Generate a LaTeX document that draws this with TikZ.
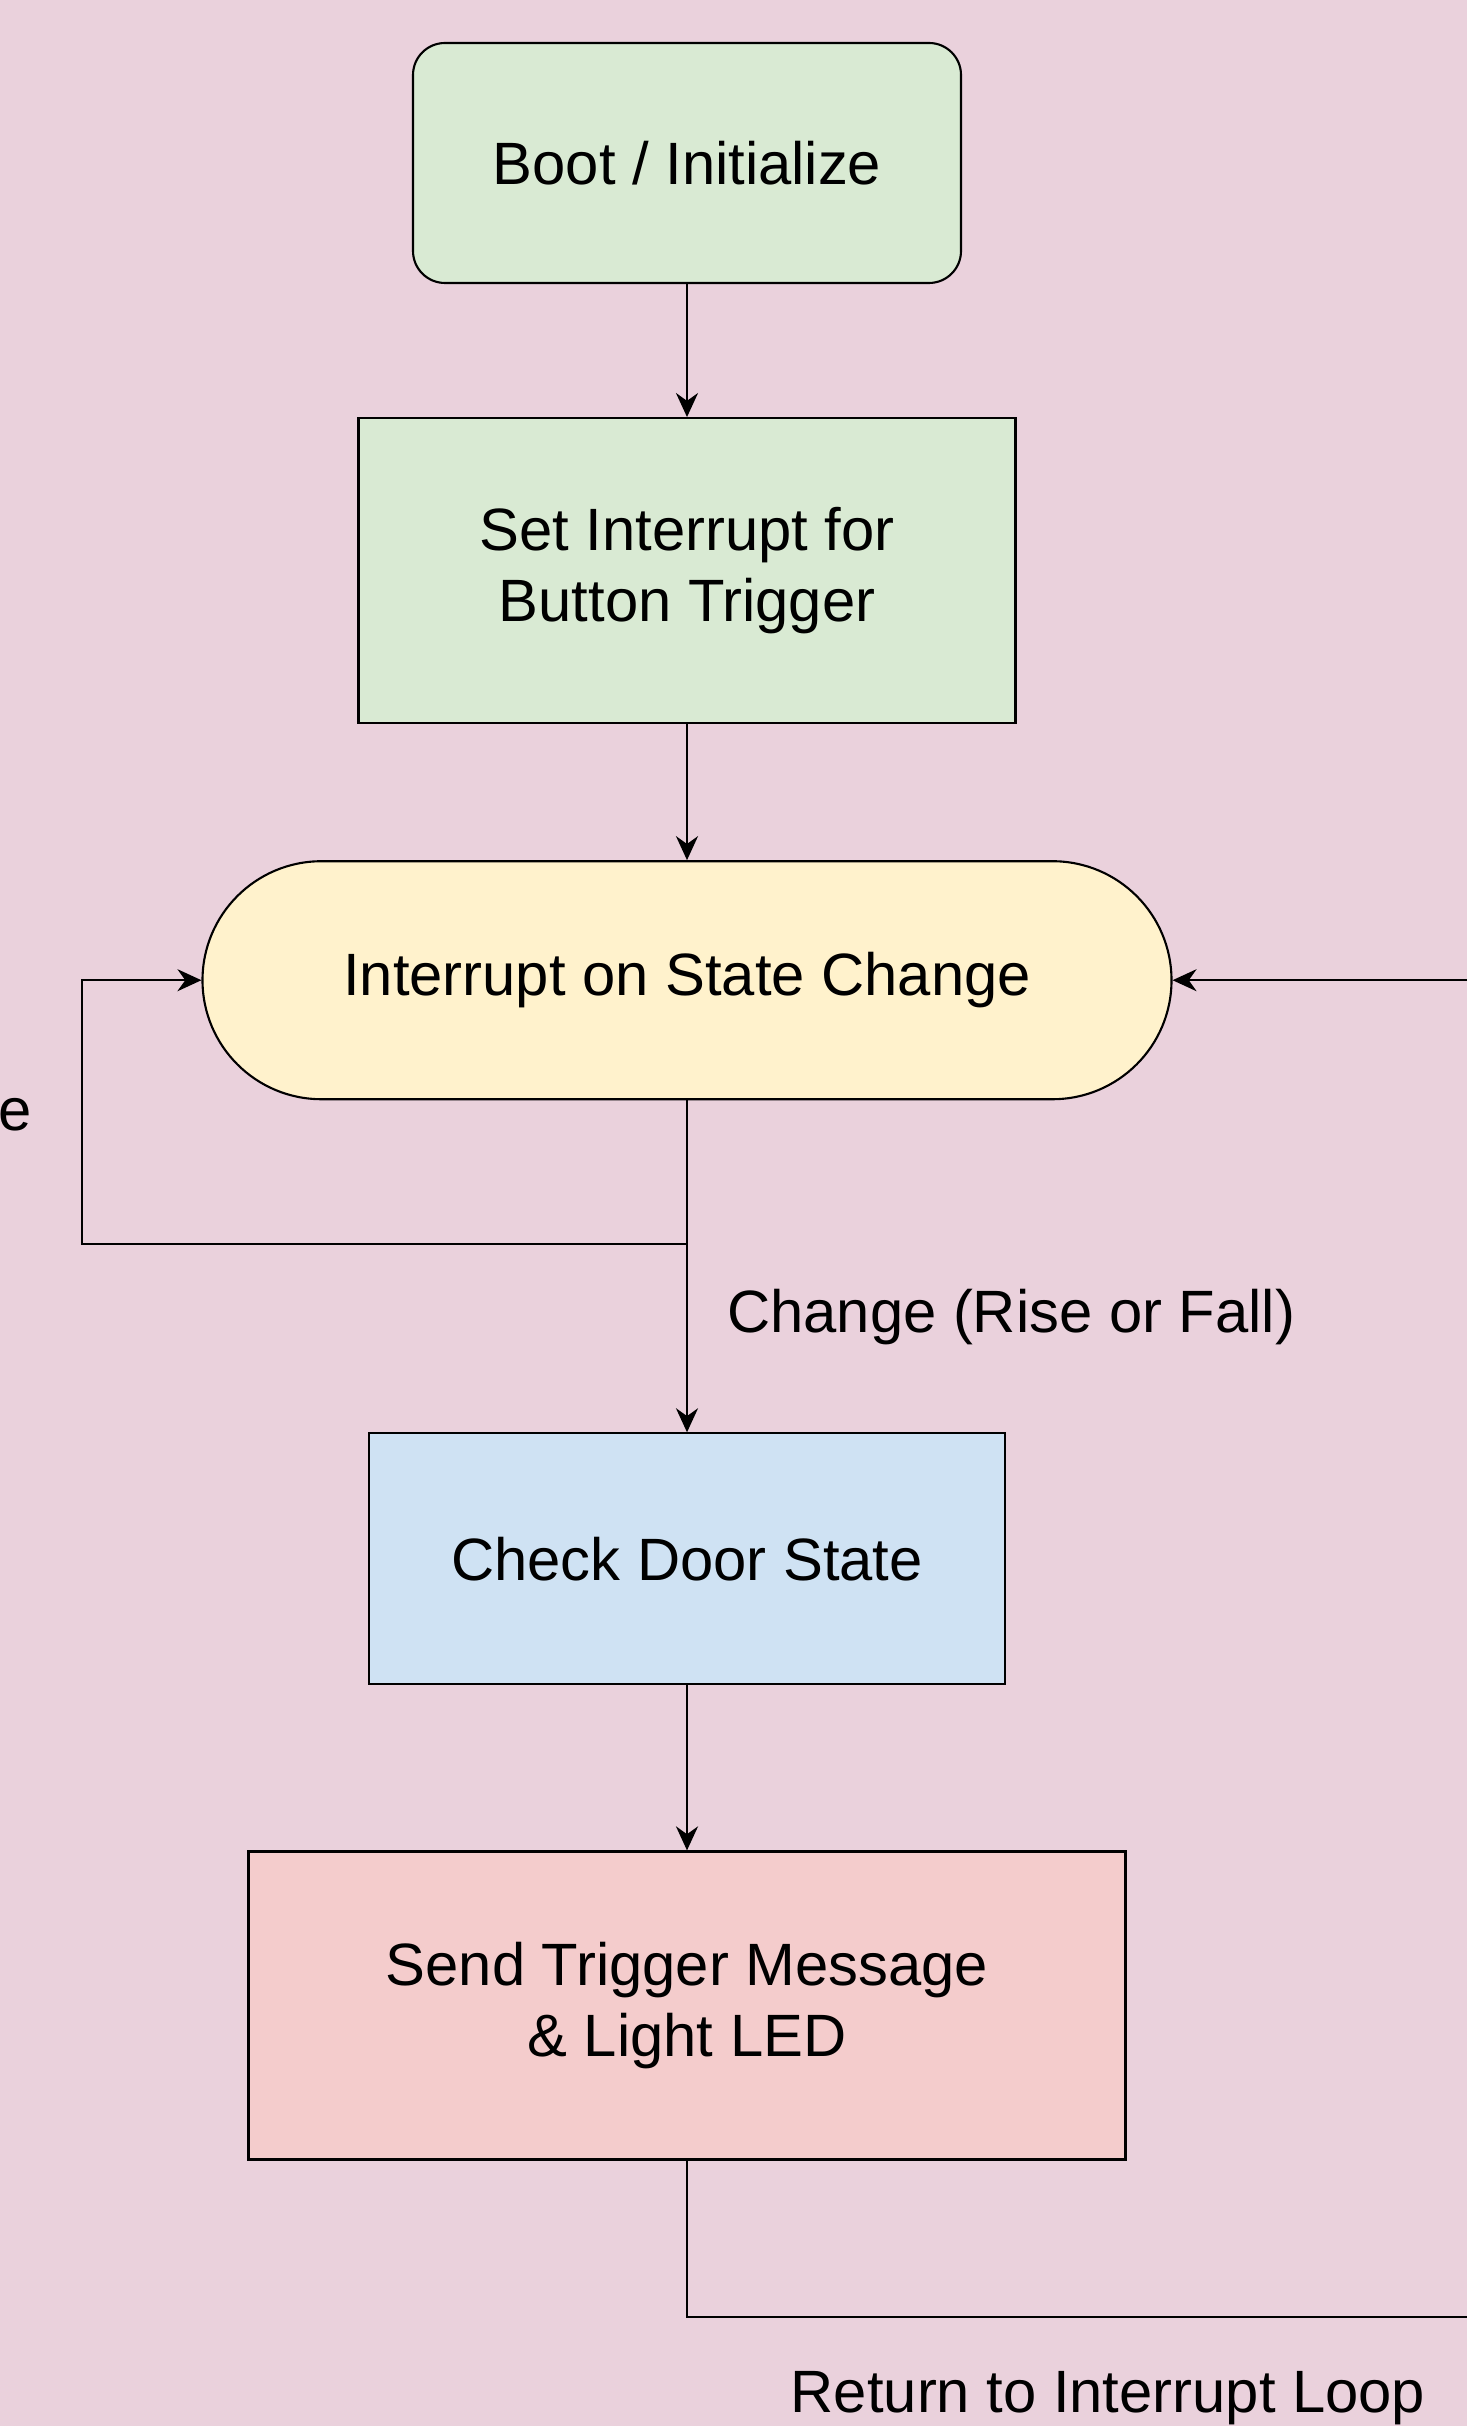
\documentclass[tikz,border=0pt]{standalone}
\usepackage{fontspec}
\setmainfont{Liberation Sans}
\usepackage{tikz}
\usetikzlibrary{arrows.meta, positioning}

\definecolor{bgpink}{HTML}{EAD1DC}
\definecolor{bootgreen}{HTML}{D9EAD3}
\definecolor{irqyellow}{HTML}{FFF2CC}
\definecolor{checkblue}{HTML}{CFE2F3}
\definecolor{sendred}{HTML}{F4CCCC}

\begin{document}
\begin{tikzpicture}[>={Stealth[length=2.4mm,width=2.2mm]}, line width=0.7pt,
    font=\fontsize{17}{20}\selectfont,
    flowbox/.style={shape=rectangle, draw=black, line width=0.6pt, align=center, inner sep=0pt}]
    \fill[bgpink] (0,0) rectangle (14.67,-24.26);
    \useasboundingbox (0,0) rectangle (14.67,-24.26);

    \node[flowbox, fill=bootgreen, rounded corners=0.32cm, minimum width=5.48cm, minimum height=2.40cm] (boot) at (6.87,-1.63) {Boot / Initialize};
    \node[flowbox, fill=bootgreen, minimum width=6.57cm, minimum height=3.05cm, below = 1.33cm of boot] (setint) {Set Interrupt for\\Button Trigger};
    \node[flowbox, fill=irqyellow, rounded corners=1.19cm, minimum width=9.69cm, minimum height=2.38cm, below = 1.36cm of setint] (irq) {Interrupt on State Change};
    \node[flowbox, fill=checkblue, minimum width=6.36cm, minimum height=2.51cm, below = 3.32cm of irq] (check) {Check Door State};
    \node[flowbox, fill=sendred, minimum width=8.77cm, minimum height=3.08cm, below = 1.65cm of check] (send) {Send Trigger Message\\\& Light LED};

    \coordinate (junc) at (6.87,-12.44);
    \coordinate (lft) at (0.82,-12.44);
    \coordinate (rgtx) at (14.67,0);
    \coordinate (retend) at (14.67,-23.17);

    \path [->](boot) edge (setint);
    \path [->](setint) edge (irq);
    \path [->](irq) edge (check);
    \path [->](check) edge (send);
    \draw [->](junc) -- (lft) |- (irq.west);
    \draw [->](rgtx |- irq.east) -- (irq.east);
    \draw (send.south) |- (retend);

    \node[anchor=west, inner sep=0pt] (chg) at (7.26,-13.17) {Change (Rise or Fall)};
    \node[inner sep=0pt] (ret) at (11.08,-23.98) {Return to Interrupt Loop};
    \node[anchor=west, inner sep=0pt] (cut) at (-0.03,-11.15) {e};
\end{tikzpicture}
\end{document}
